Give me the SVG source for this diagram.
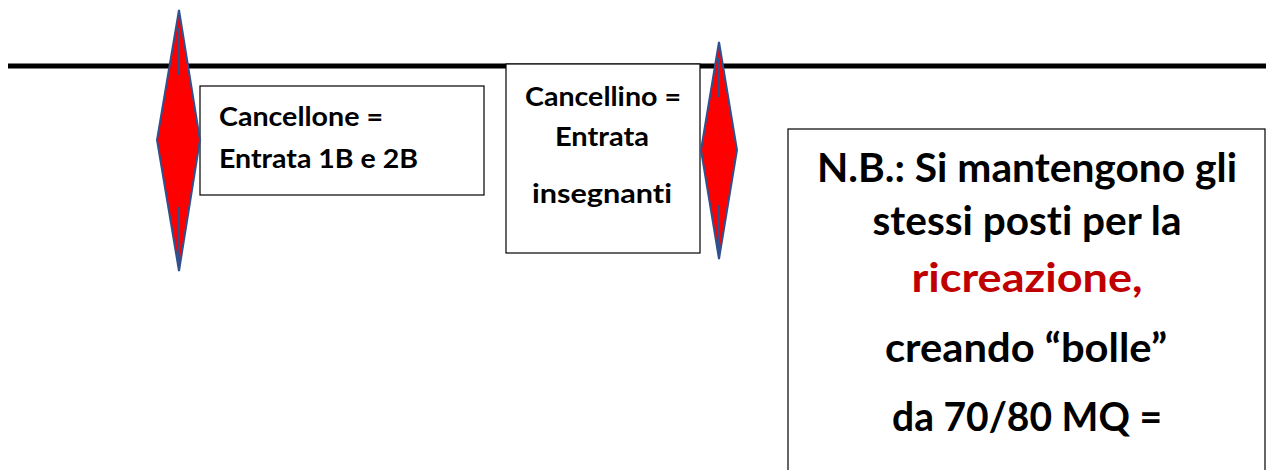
<svg xmlns="http://www.w3.org/2000/svg" width="1266" height="470" viewBox="0 0 1266 470">
<style>
.box{fill:#fff;stroke:#000;stroke-width:1.2}
.gate{fill:#ff0000;stroke:#2f528f;stroke-width:2;stroke-linejoin:miter}
.post{stroke:#2f528f;stroke-width:2}
.s,.b{font-family:Lato,"Liberation Sans",sans-serif;font-weight:700;fill:#000;font-variant-ligatures:none;font-feature-settings:"liga" 0;}
.s{font-size:27px}
.b{font-size:40px;text-anchor:middle}
.red{fill:#c00000}
</style>
<rect width="1266" height="470" fill="#fff"/>
<g id="wall"><line x1="8" y1="66" x2="1266" y2="66" stroke="#000" stroke-width="5"/></g>
<g id="box-cancellone">
<rect class="box" x="200" y="86" width="284" height="109"/>
<text class="s" x="219" y="126" textLength="164" lengthAdjust="spacingAndGlyphs">Cancellone =</text>
<text class="s" x="219" y="168" textLength="199" lengthAdjust="spacingAndGlyphs">Entrata 1B e 2B</text>
</g>
<g id="box-cancellino">
<rect class="box" x="506" y="64" width="194" height="189"/>
<text class="s" x="603" y="106" text-anchor="middle" textLength="156" lengthAdjust="spacingAndGlyphs">Cancellino =</text>
<text class="s" x="602" y="146" text-anchor="middle" textLength="94" lengthAdjust="spacingAndGlyphs">Entrata</text>
<text class="s" x="602" y="203" text-anchor="middle" textLength="140" lengthAdjust="spacingAndGlyphs">insegnanti</text>
</g>
<g id="gate-1">
<polygon class="gate" points="179,10 200,140 179,271 157,140"/>
<line class="post" x1="179" y1="28" x2="179" y2="75"/>
<line class="post" x1="179" y1="207" x2="179" y2="263"/>
</g>
<g id="gate-2">
<polygon class="gate" points="719,42 737,150 719,259 701,150"/>
<line class="post" x1="719" y1="58" x2="719" y2="97"/>
<line class="post" x1="719" y1="205" x2="719" y2="257"/>
</g>
<g id="box-nb">
<rect class="box" x="788" y="129" width="477" height="345"/>
<text class="b" x="1027" y="182" textLength="420" lengthAdjust="spacingAndGlyphs">N.B.: Si mantengono gli</text>
<text class="b" x="1027" y="235" textLength="309" lengthAdjust="spacingAndGlyphs">stessi posti per la</text>
<text class="b red" x="1027" y="292" textLength="231" lengthAdjust="spacingAndGlyphs">ricreazione,</text>
<text class="b" x="1026" y="362" textLength="282" lengthAdjust="spacingAndGlyphs">creando “bolle”</text>
<text class="b" x="1027" y="431" textLength="270" lengthAdjust="spacingAndGlyphs">da 70/80 MQ =</text>
</g>
<g id="connectors"></g>
</svg>
